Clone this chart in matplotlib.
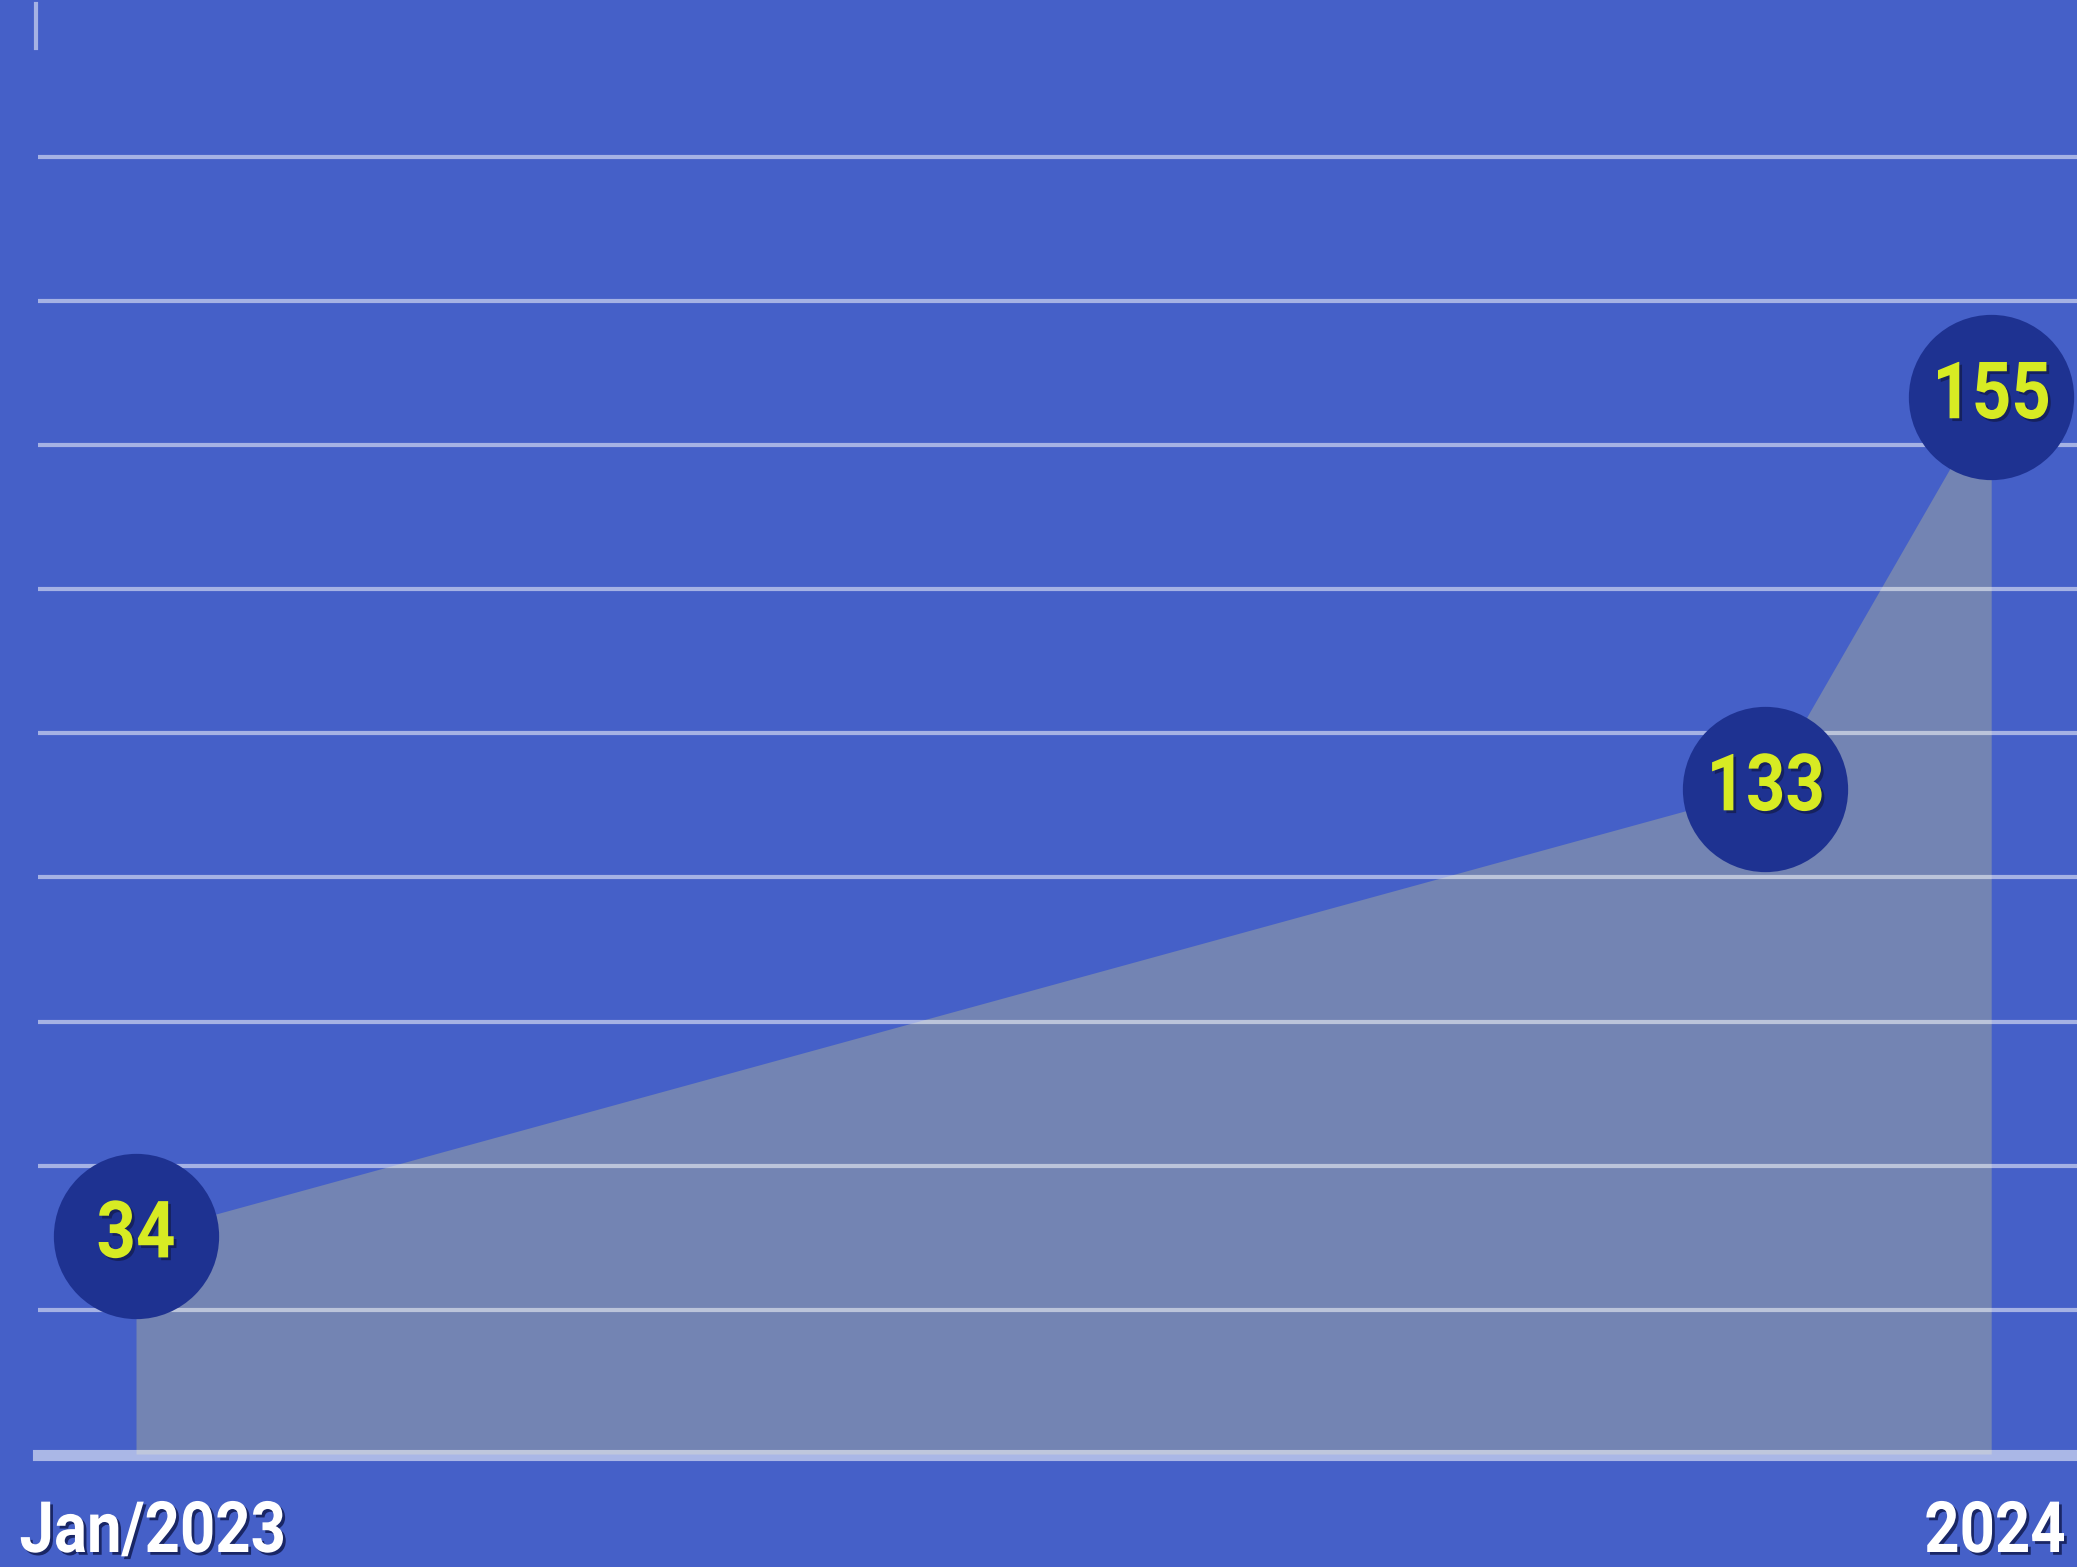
import numpy as np
import matplotlib
matplotlib.use('Agg')
from matplotlib import pyplot as plt
import matplotlib.patheffects as pe
import matplotlib.transforms as mtransforms

# months since Jan/2023, plotted heights (in gridline units as drawn), and the printed values
months = [0, 10.54, 12]
heights = [1.513, 4.615, 7.335]
values = [34, 133, 155]
tick_pos = [0, 12]
tick_labels = ['Jan/2023', '2024']
label_nudge = [0.11, 0.025]   # keeps the labels inside the picture

bg = '#4560c8'
fill_col = '#7384b3'
dot_col = '#1e3291'
num_col = '#d7eb23'

plt.rcParams['font.family'] = ['Roboto', 'DejaVu Sans']


class Squeeze(pe.AbstractPathEffect):
    # narrows the text path horizontally around its own centre (no condensed font here)
    def __init__(self, sx, effects):
        super().__init__()
        self.sx = sx
        self.effects = effects

    def draw_path(self, renderer, gc, tpath, affine, rgbFace=None):
        ext = tpath.get_extents()
        cx = (ext.x0 + ext.x1) / 2
        sq = mtransforms.Affine2D().translate(-cx, 0).scale(self.sx, 1).translate(cx, 0)
        for eff in self.effects:
            eff.draw_path(renderer, gc, tpath, sq + affine, rgbFace)


def text_fx():
    return [Squeeze(0.87, [pe.SimplePatchShadow(offset=(2, -2), shadow_rgbFace='#15205a', alpha=0.9),
                           pe.Normal()])]


fig = plt.figure(figsize=(20.77, 15.67), dpi=100, facecolor=bg)
ax = fig.add_axes([38 / 2077, 113 / 1567, 1 - 38 / 2077, (1563 - 113) / 1567])
ax.set_facecolor(bg)

ax.set_xlim(-0.634, 12.555)
ax.set_ylim(0, 10.06)

ax.fill_between(months, heights, 0, color=fill_col, linewidth=0, zorder=1)

for g in range(1, 10):
    ax.axhline(g, color='white', alpha=0.52, linewidth=3, zorder=2)
# thicker base line
ax.axhline(-0.01, color='white', alpha=0.55, linewidth=8, zorder=2, clip_on=False)

# little mark at the top left
ax.plot([-0.001, -0.001], [1.0, 0.97], transform=ax.transAxes, color='white', alpha=0.52,
        linewidth=3, clip_on=False, zorder=2)

ax.plot(months, heights, 'o', markersize=119, color=dot_col, markeredgewidth=0,
        linestyle='none', clip_on=False, zorder=3)

for x, y, v in zip(months, heights, values):
    ax.text(x, y, str(v), ha='center', va='center', fontsize=57, fontweight='bold',
            color=num_col, zorder=4, path_effects=text_fx())

trans = mtransforms.blended_transform_factory(ax.transData, ax.transAxes)
for x, dx, lab in zip(tick_pos, label_nudge, tick_labels):
    ax.text(x + dx, (1567 - 1552 - 113) / 1450, lab, transform=trans, ha='center', va='baseline',
            fontsize=51, fontweight='bold', color='white', clip_on=False,
            path_effects=text_fx())

ax.set_xticks([])
ax.set_yticks([])
for s in ax.spines.values():
    s.set_visible(False)

fig.savefig('out.png', dpi=100, facecolor=bg)
